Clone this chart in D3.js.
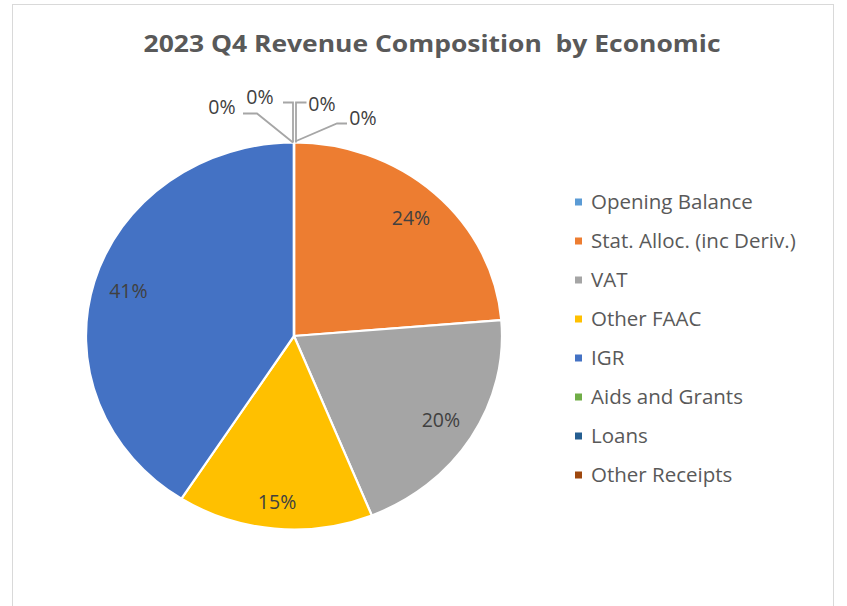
<!DOCTYPE html>
<html><head><meta charset="utf-8">
<script src="https://cdn.jsdelivr.net/npm/d3@7"></script>
<style>body{margin:0;background:#fff;} svg{display:block;}</style>
</head><body>
<svg id="chart" width="847" height="606"></svg>
<script>
// ---- data ----
const chartTitle = "2023 Q4 Revenue Composition  by Economic";
const categories = ["Opening Balance","Stat. Alloc. (inc Deriv.)","VAT","Other FAAC","IGR","Aids and Grants","Loans","Other Receipts"];
const shares = [0, 23.7, 20.2, 15.2, 40.9, 0, 0, 0];
const colors = ["#5B9BD5","#ED7D31","#A5A5A5","#FFC000","#4472C4","#70AD47","#255E91","#9E480E"];

// ---- layout ----
const W = 847, H = 606;
const cx = 294, cy = 336, rx = 208, ry = 193.5;
const font = "'Open Sans', 'Noto Sans', sans-serif";
const svg = d3.select("#chart");

svg.append("rect").attr("x",12.5).attr("y",4.5).attr("width",821).attr("height",640)
  .attr("fill","#fff").attr("stroke","#D9D9D9").attr("stroke-width",1);

svg.append("text").attr("x",432).attr("y",52).attr("text-anchor","middle")
  .attr("font-family",font).attr("font-weight","bold").attr("font-size",23.5)
  .attr("fill","#595959").attr("textLength",577).attr("lengthAdjust","spacingAndGlyphs")
  .style("white-space","pre")
  .text(chartTitle);

const data = categories.map((c,i)=>({name:c, value:shares[i], color:colors[i], idx:i}));
const pie = d3.pie().sort(null).value(d=>d.value).startAngle(0).endAngle(2*Math.PI);
const arcs = pie(data);
const total = d3.sum(shares);
const pct = d3.format(".0%");
const arc = d3.arc().innerRadius(0).outerRadius(rx);

const gp = svg.append("g").attr("transform",`translate(${cx},${cy}) scale(1,${ry/rx})`);
gp.selectAll("path").data(arcs).join("path")
  .attr("d",arc).attr("fill",d=>d.data.color)
  .attr("stroke","#fff").attr("stroke-width",2.2).attr("vector-effect","non-scaling-stroke")
  .attr("stroke-linejoin","round");

// inside labels
const labelFrac = [0, 0.83, 0.83, 0.865, 0.83, 0, 0, 0];
const lblSize = 19.5;
const gl = svg.append("g").attr("transform",`translate(${cx},${cy})`);
arcs.filter(d=>d.value>0).forEach(d=>{
  const a = (d.startAngle+d.endAngle)/2;
  const f = labelFrac[d.data.idx];
  gl.append("text")
    .attr("x", Math.sin(a)*rx*f).attr("y", -Math.cos(a)*ry*f)
    .attr("dy","0.35em").attr("text-anchor","middle")
    .attr("font-family",font).attr("font-size",lblSize).attr("fill","#404040")
    .text(pct(d.value/total));
});

// zero-value labels with leader lines (offsets from pie top)
const zeroLayout = {
  0: {lx: 28, ly: -38, pts: [[2,0],[2,-40],[12.5,-40]]},
  5: {lx: 69, ly: -24, pts: [[1,-1],[43,-19],[53,-19]]},
  6: {lx: -34, ly: -45, pts: [[-1,0],[-1,-40],[-11,-40]]},
  7: {lx: -72, ly: -35, pts: [[-1,0],[-37,-29],[-51,-29]]}
};
const gz = svg.append("g").attr("transform",`translate(${cx},${cy-ry})`);
arcs.filter(d=>d.value===0).forEach(d=>{
  const L = zeroLayout[d.data.idx];
  gz.append("path").attr("d", d3.line()(L.pts)).attr("fill","none")
    .attr("stroke","#A6A6A6").attr("stroke-width",1.8);
  gz.append("text").attr("x",L.lx).attr("y",L.ly).attr("dy","0.35em").attr("text-anchor","middle")
    .attr("font-family",font).attr("font-size",lblSize).attr("fill","#404040")
    .text(pct(total ? d.value/total : 0));
});

// legend
const lg = svg.append("g").attr("transform","translate(575,202)");
const rowH = 39;
const items = lg.selectAll("g").data(data).join("g").attr("transform",(d,i)=>`translate(0,${i*rowH})`);
items.append("rect").attr("x",0).attr("y",-3.5).attr("width",7).attr("height",7).attr("fill",d=>d.color);
items.append("text").attr("x",16).attr("y",0).attr("dy","0.35em")
  .attr("font-family",font).attr("font-size",20.5).attr("fill","#595959").text(d=>d.name);
</script>
</body></html>
